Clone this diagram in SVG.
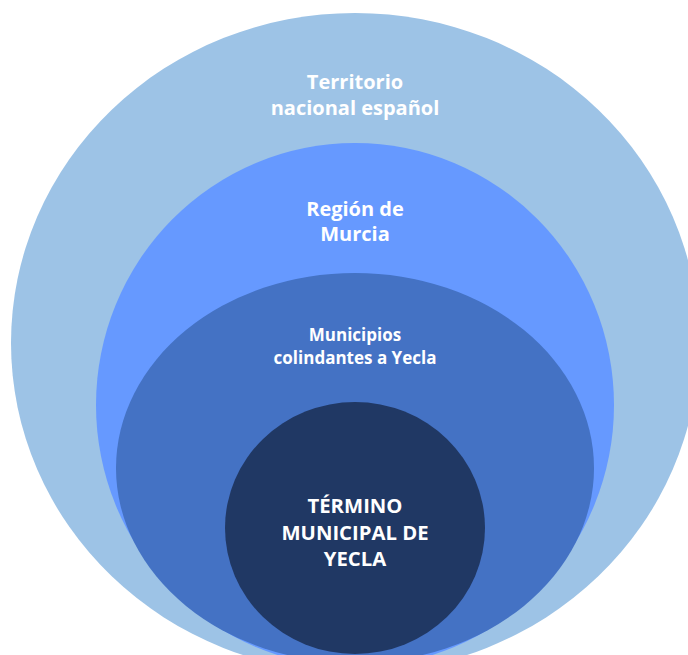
<svg xmlns="http://www.w3.org/2000/svg" width="688" height="655" viewBox="0 0 688 655">
<style>
.t{font-family:"Open Sans","Noto Sans","Liberation Sans",sans-serif;font-weight:bold;fill:#FFFFFF;text-anchor:middle}
.l1{font-size:20px}
.l3{font-size:17px}
.l4{font-size:20.3px}
</style>
<rect width="688" height="655" fill="#FFFFFF"/>
<g id="territorio">
<ellipse cx="355" cy="343" rx="344" ry="330" fill="#9DC3E6"/>
<text class="t l1" x="355" y="89">Territorio</text>
<text class="t l1" x="355" y="115">nacional español</text>
</g>
<g id="region">
<ellipse cx="355" cy="405" rx="259" ry="262" fill="#6699FF"/>
<text class="t l1" x="355" y="216">Región de</text>
<text class="t l1" x="355" y="241">Murcia</text>
</g>
<g id="municipios">
<ellipse cx="355" cy="468" rx="239" ry="195" fill="#4472C4"/>
<text class="t l3" x="355" y="341">Municipios</text>
<text class="t l3" x="355" y="363.5">colindantes a Yecla</text>
</g>
<g id="termino">
<ellipse cx="355" cy="528" rx="130" ry="126" fill="#203864"/>
<text class="t l4" x="355" y="513">TÉRMINO</text>
<text class="t l4" x="355" y="539.5">MUNICIPAL DE</text>
<text class="t l4" x="355" y="566">YECLA</text>
</g>
</svg>
